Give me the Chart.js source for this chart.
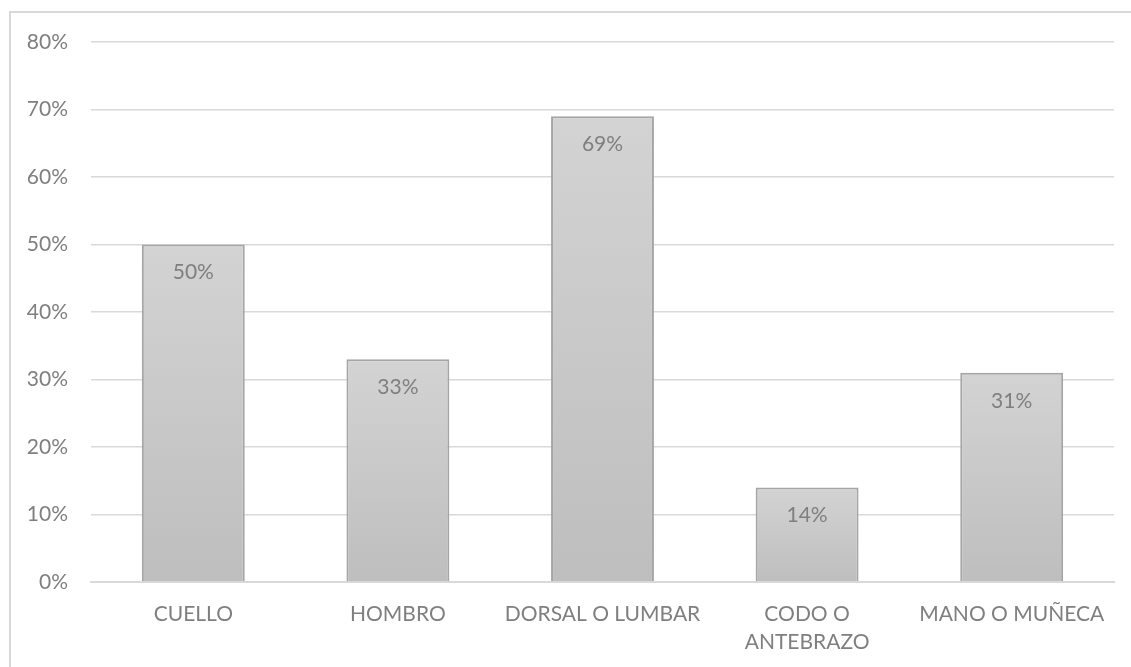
<!DOCTYPE html>
<html>
<head>
<meta charset="utf-8">
<script src="https://cdn.jsdelivr.net/npm/chart.js@4.4.1/dist/chart.umd.min.js"></script>
<style>
  html, body { margin: 0; padding: 0; background: #fff; overflow: hidden; }
  #marco { position: absolute; left: 9px; top: 11px; width: 1200px; height: 700px; border: 2px solid #d9d9d9; }
  #wrap { position: absolute; left: 0; top: 0; width: 1131px; height: 667px; }
</style>
</head>
<body>
<div id="marco"></div>
<div id="wrap"><canvas id="grafico"></canvas></div>
<script>
// Zonas con molestias (porcentaje de trabajadores)
var zonas = ['CUELLO', 'HOMBRO', 'DORSAL O LUMBAR', ['CODO O', 'ANTEBRAZO'], 'MANO O MUÑECA'];
var porcentajes = [50, 33, 69, 14, 31];
var ejeMax = 80;
var ejePaso = 10;

var fuente = { family: 'Lato, "Open Sans", sans-serif', size: 21, lineHeight: 1.35 };
var gris = '#7f7f7f';

// Relleno degradado de cada barra, claro arriba y más oscuro abajo
function degradado(ctx) {
  var chart = ctx.chart;
  var y = chart.scales && chart.scales.y;
  if (!chart.chartArea || !y || ctx.type !== 'data') return '#c8c8c8';
  var top = y.getPixelForValue(ctx.raw);
  var base = y.getPixelForValue(0);
  if (!isFinite(top) || !isFinite(base) || top === base) return '#c8c8c8';
  var g = chart.ctx.createLinearGradient(0, top, 0, base);
  g.addColorStop(0, '#d3d3d3');
  g.addColorStop(1, '#bebebe');
  return g;
}

// Etiqueta del valor dentro de la barra, cerca del extremo
var etiquetas = {
  id: 'etiquetas',
  afterDatasetsDraw: function(chart) {
    var ctx = chart.ctx;
    var meta = chart.getDatasetMeta(0);
    ctx.save();
    ctx.font = fuente.size + 'px ' + fuente.family;
    ctx.fillStyle = gris;
    ctx.textAlign = 'center';
    ctx.textBaseline = 'middle';
    meta.data.forEach(function(bar, i) {
      ctx.fillText(porcentajes[i] + '%', bar.x, bar.y + 28);
    });
    ctx.restore();
  }
};

new Chart(document.getElementById('grafico'), {
  type: 'bar',
  data: {
    labels: zonas,
    datasets: [{
      data: porcentajes,
      backgroundColor: degradado,
      borderColor: '#a5a5a5',
      borderWidth: 2,
      borderSkipped: 'bottom',
      categoryPercentage: 1,
      barPercentage: 0.503
    }]
  },
  options: {
    responsive: true,
    maintainAspectRatio: false,
    animation: false,
    layout: { padding: { top: 42, right: 17, bottom: 0, left: 0 } },
    plugins: { legend: { display: false }, tooltip: { enabled: false } },
    scales: {
      x: {
        grid: { display: false, drawTicks: false },
        border: { color: '#d9d9d9', width: 2 },
        ticks: { color: gris, font: fuente, padding: 18, maxRotation: 0, autoSkip: false },
        afterFit: function(s) { s.height = 85; }
      },
      y: {
        min: 0,
        max: ejeMax,
        grid: { color: '#d9d9d9', lineWidth: 1.5, drawTicks: false },
        border: { display: false },
        ticks: {
          stepSize: ejePaso,
          color: gris,
          font: fuente,
          padding: 23,
          callback: function(v) { return v + '%'; }
        },
        afterFit: function(s) { s.width = 91; }
      }
    }
  },
  plugins: [etiquetas]
});
</script>
</body>
</html>
